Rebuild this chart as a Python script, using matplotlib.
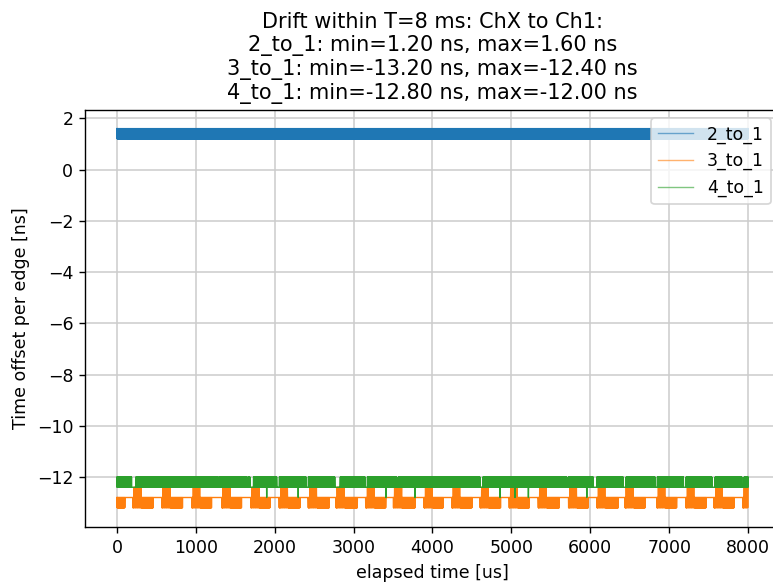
import numpy as np
import matplotlib
matplotlib.use('Agg')
import matplotlib.pyplot as plt

# levels (ns)
levels_2 = [1.2, 1.6]
levels_3 = [-12.4, -12.8, -13.2]
levels_4 = [-12.0, -12.4, -12.8]

# 3_to_1: blocks where it toggles between -12.8 and -13.2 (us)
block_start = [0, 199, 567, 947, 1328, 1695, 2058, 2426, 2777, 3154, 3503, 3893,
               4244, 4603, 4974, 5342, 5723, 6083, 6441, 6843, 7211, 7570, 7934]
block_end = [101, 460, 833, 1201, 1581, 1940, 2320, 2692, 3047, 3407, 3779, 4134,
             4498, 4865, 5228, 5608, 5976, 6356, 6695, 7097, 7469, 7824, 8000]
pulse_len = 90  # short bump up to -12.4 at the start of each block (not the first)

# 4_to_1: intervals where it sits at -12.4 only, and single dips to -12.8
gap_start = [186, 1285, 1645, 1686, 2025, 2397, 2764, 3145, 3547, 4603, 5702,
             6040, 6420, 6822, 7181, 7541, 7921]
gap_end = [237, 1297, 1657, 1728, 2058, 2426, 2828, 3174, 3567, 4637, 5723,
           6083, 6454, 6851, 7215, 7583, 7950]
dips = [1898, 2299, 3411, 3779, 4857, 5047, 5216, 5956]

t = np.arange(0, 8001, 2)
idx = np.arange(len(t))
alt = idx % 2 == 0

y2 = np.where(alt, levels_2[1], levels_2[0])

y3 = np.full(len(t), levels_3[1])
cycle3 = np.array([levels_3[0], levels_3[1], levels_3[2], levels_3[1]])
for k, (s, e) in enumerate(zip(block_start, block_end)):
    m = (t >= s) & (t <= e)
    y3[m] = np.where(alt[m], levels_3[1], levels_3[2])
    if k > 0:
        p = (t >= s + 15) & (t <= s + 15 + pulse_len)
        y3[p] = cycle3[idx[p] % 4]

y4 = np.where(alt, levels_4[0], levels_4[1])
for s, e in zip(gap_start, gap_end):
    y4[(t >= s) & (t <= e)] = levels_4[1]
for d in dips:
    y4[np.argmin(np.abs(t - d))] = levels_4[2]

fig, ax = plt.subplots(figsize=(773 / 125, 584 / 125), dpi=125)
# the right spine falls just outside the saved picture, as in the original
fig.subplots_adjust(left=0.1105, right=1.0085, top=0.8123, bottom=0.0981)
ax.plot(t, y2, color='#1f77b4', lw=0.8, label='2_to_1')
ax.plot(t, y3, color='#ff7f0e', lw=0.8, label='3_to_1')
ax.plot(t, y4, color='#2ca02c', lw=0.8, label='4_to_1')
ax.grid(True, color='#cccccc', lw=0.9)
ax.set_xlabel('elapsed time [us]')
ax.set_ylabel('Time offset per edge [ns]')
ax.set_title('Drift within T=8 ms: ChX to Ch1:\n'
             '2_to_1: min=%.2f ns, max=%.2f ns\n'
             '3_to_1: min=%.2f ns, max=%.2f ns\n'
             '4_to_1: min=%.2f ns, max=%.2f ns'
             % (y2.min(), y2.max(), y3.min(), y3.max(), y4.min(), y4.max()))
leg = ax.legend(loc='upper right')
for h in leg.legend_handles:
    h.set_alpha(0.6)
fig.savefig('out.png')
